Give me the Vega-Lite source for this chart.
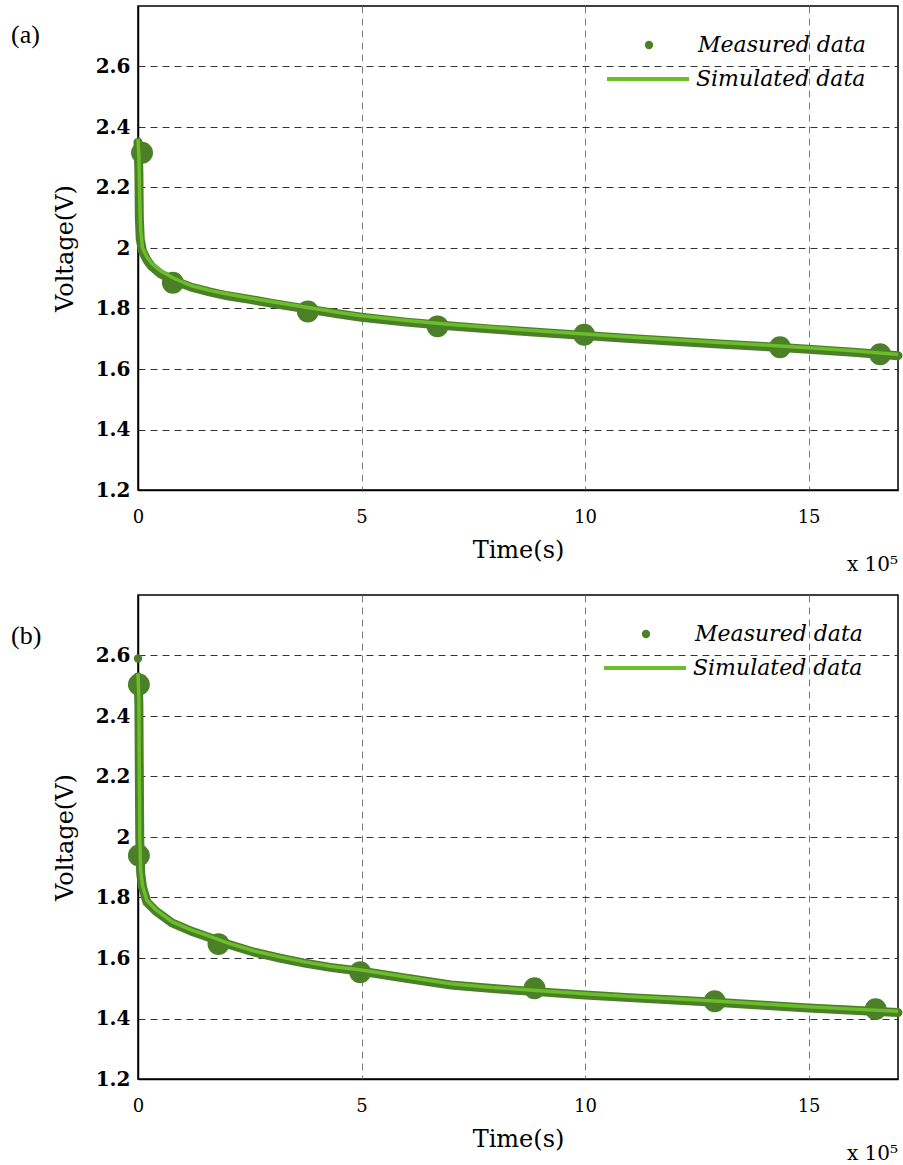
{
  "$schema": "https://vega.github.io/schema/vega-lite/v6.json",
  "background": "white",
  "padding": {"left": 10, "top": 5, "right": 5, "bottom": 5},
  "spacing": 19,
  "datasets": {
    "measA": [
      {"t": 0, "v": 2.35}, {"t": 2000, "v": 2.25}, {"t": 3000, "v": 2.1}, {"t": 5000, "v": 2.03}, {"t": 10000, "v": 1.99},
      {"t": 20000, "v": 1.96}, {"t": 30000, "v": 1.94}, {"t": 50000, "v": 1.915}, {"t": 80000, "v": 1.893}, {"t": 120000, "v": 1.87},
      {"t": 160000, "v": 1.855}, {"t": 200000, "v": 1.842}, {"t": 250000, "v": 1.83}, {"t": 300000, "v": 1.817}, {"t": 380000, "v": 1.798},
      {"t": 450000, "v": 1.782}, {"t": 500000, "v": 1.771}, {"t": 600000, "v": 1.755}, {"t": 700000, "v": 1.742}, {"t": 800000, "v": 1.731},
      {"t": 900000, "v": 1.721}, {"t": 1000000, "v": 1.711}, {"t": 1100000, "v": 1.701}, {"t": 1200000, "v": 1.692}, {"t": 1300000, "v": 1.683},
      {"t": 1400000, "v": 1.674}, {"t": 1500000, "v": 1.665}, {"t": 1600000, "v": 1.655}, {"t": 1700000, "v": 1.644}
    ],
    "simA": [
      {"t": 0, "v": 2.36, "series": "Simulated data"}, {"t": 2000, "v": 2.3, "series": "Simulated data"}, {"t": 4000, "v": 2.15, "series": "Simulated data"},
      {"t": 6000, "v": 2.06, "series": "Simulated data"}, {"t": 10000, "v": 2.0, "series": "Simulated data"}, {"t": 20000, "v": 1.97, "series": "Simulated data"},
      {"t": 30000, "v": 1.95, "series": "Simulated data"}, {"t": 50000, "v": 1.925, "series": "Simulated data"}, {"t": 80000, "v": 1.9, "series": "Simulated data"},
      {"t": 120000, "v": 1.875, "series": "Simulated data"}, {"t": 160000, "v": 1.86, "series": "Simulated data"}, {"t": 200000, "v": 1.848, "series": "Simulated data"},
      {"t": 250000, "v": 1.835, "series": "Simulated data"}, {"t": 300000, "v": 1.822, "series": "Simulated data"}, {"t": 380000, "v": 1.803, "series": "Simulated data"},
      {"t": 450000, "v": 1.787, "series": "Simulated data"}, {"t": 500000, "v": 1.776, "series": "Simulated data"}, {"t": 600000, "v": 1.76, "series": "Simulated data"},
      {"t": 700000, "v": 1.747, "series": "Simulated data"}, {"t": 800000, "v": 1.736, "series": "Simulated data"}, {"t": 900000, "v": 1.726, "series": "Simulated data"},
      {"t": 1000000, "v": 1.716, "series": "Simulated data"}, {"t": 1100000, "v": 1.706, "series": "Simulated data"}, {"t": 1200000, "v": 1.697, "series": "Simulated data"},
      {"t": 1300000, "v": 1.688, "series": "Simulated data"}, {"t": 1400000, "v": 1.679, "series": "Simulated data"}, {"t": 1500000, "v": 1.67, "series": "Simulated data"},
      {"t": 1600000, "v": 1.66, "series": "Simulated data"}, {"t": 1700000, "v": 1.648, "series": "Simulated data"}
    ],
    "markA": [
      {"t": 9000, "v": 2.315, "series": "Measured data"}, {"t": 78000, "v": 1.885, "series": "Measured data"}, {"t": 380000, "v": 1.79, "series": "Measured data"},
      {"t": 670000, "v": 1.741, "series": "Measured data"}, {"t": 998000, "v": 1.713, "series": "Measured data"}, {"t": 1436000, "v": 1.672, "series": "Measured data"},
      {"t": 1660000, "v": 1.649, "series": "Measured data"}
    ],
    "measB": [
      {"t": 0, "v": 2.53}, {"t": 2000, "v": 2.44}, {"t": 3000, "v": 2.2}, {"t": 4000, "v": 1.99}, {"t": 6000, "v": 1.88},
      {"t": 10000, "v": 1.835}, {"t": 20000, "v": 1.785}, {"t": 40000, "v": 1.755}, {"t": 76000, "v": 1.716}, {"t": 120000, "v": 1.688},
      {"t": 150000, "v": 1.673}, {"t": 200000, "v": 1.646}, {"t": 260000, "v": 1.619}, {"t": 320000, "v": 1.599}, {"t": 370000, "v": 1.584},
      {"t": 430000, "v": 1.569}, {"t": 500000, "v": 1.556}, {"t": 600000, "v": 1.533}, {"t": 700000, "v": 1.511}, {"t": 800000, "v": 1.498},
      {"t": 900000, "v": 1.488}, {"t": 1000000, "v": 1.478}, {"t": 1100000, "v": 1.469}, {"t": 1200000, "v": 1.461}, {"t": 1300000, "v": 1.453},
      {"t": 1400000, "v": 1.444}, {"t": 1500000, "v": 1.435}, {"t": 1600000, "v": 1.427}, {"t": 1700000, "v": 1.42}
    ],
    "simB": [
      {"t": 0, "v": 2.54, "series": "Simulated data"}, {"t": 2000, "v": 2.45, "series": "Simulated data"}, {"t": 3000, "v": 2.2, "series": "Simulated data"},
      {"t": 4000, "v": 2.0, "series": "Simulated data"}, {"t": 6000, "v": 1.89, "series": "Simulated data"}, {"t": 10000, "v": 1.84, "series": "Simulated data"},
      {"t": 20000, "v": 1.79, "series": "Simulated data"}, {"t": 40000, "v": 1.76, "series": "Simulated data"}, {"t": 76000, "v": 1.72, "series": "Simulated data"},
      {"t": 120000, "v": 1.692, "series": "Simulated data"}, {"t": 150000, "v": 1.677, "series": "Simulated data"}, {"t": 200000, "v": 1.65, "series": "Simulated data"},
      {"t": 260000, "v": 1.623, "series": "Simulated data"}, {"t": 320000, "v": 1.603, "series": "Simulated data"}, {"t": 370000, "v": 1.588, "series": "Simulated data"},
      {"t": 430000, "v": 1.573, "series": "Simulated data"}, {"t": 500000, "v": 1.56, "series": "Simulated data"}, {"t": 600000, "v": 1.537, "series": "Simulated data"},
      {"t": 700000, "v": 1.515, "series": "Simulated data"}, {"t": 800000, "v": 1.502, "series": "Simulated data"}, {"t": 900000, "v": 1.492, "series": "Simulated data"},
      {"t": 1000000, "v": 1.482, "series": "Simulated data"}, {"t": 1100000, "v": 1.473, "series": "Simulated data"}, {"t": 1200000, "v": 1.465, "series": "Simulated data"},
      {"t": 1300000, "v": 1.457, "series": "Simulated data"}, {"t": 1400000, "v": 1.448, "series": "Simulated data"}, {"t": 1500000, "v": 1.439, "series": "Simulated data"},
      {"t": 1600000, "v": 1.431, "series": "Simulated data"}, {"t": 1700000, "v": 1.424, "series": "Simulated data"}
    ],
    "markB": [
      {"t": 2000, "v": 2.504, "series": "Measured data"}, {"t": 2000, "v": 1.939, "series": "Measured data"}, {"t": 180000, "v": 1.646, "series": "Measured data"},
      {"t": 497000, "v": 1.553, "series": "Measured data"}, {"t": 887000, "v": 1.5, "series": "Measured data"}, {"t": 1290000, "v": 1.457, "series": "Measured data"},
      {"t": 1650000, "v": 1.431, "series": "Measured data"}
    ],
    "peakB": [{"t": 0, "v": 2.59}]
  },
  "config": {
    "view": {"stroke": "black", "strokeWidth": 1.5},
    "axis": {
      "domainColor": "black", "domainWidth": 1.5, "tickSize": 0, "gridDash": [7, 5], "gridWidth": 1,
      "labelFont": "DejaVu Serif", "titleFont": "DejaVu Serif", "titleFontWeight": "normal", "titleFontSize": 24,
      "labelColor": "black", "titleColor": "black"
    },
    "axisX": {"gridColor": "#7a7a7a", "labelFontSize": 18, "labelPadding": 18, "titlePadding": 12, "labelFlush": false},
    "axisY": {"gridColor": "#333333", "labelFontSize": 20, "labelFontWeight": "bold", "labelPadding": 8, "titlePadding": 18},
    "legend": {"padding": 0, "labelFont": "DejaVu Serif", "labelFontStyle": "italic", "labelFontSize": 22, "labelColor": "black", "labelLimit": 400}
  },
  "vconcat": [
    {
      "title": {"text": "x 10⁵", "orient": "bottom", "anchor": "end", "frame": "group", "offset": 0, "dx": 760, "dy": -8, "font": "DejaVu Serif", "fontSize": 20, "fontWeight": "normal", "color": "black"},
      "vconcat": [
        {
          "width": 760, "height": 484,
          "title": {"text": "(a)", "orient": "top", "anchor": "start", "frame": "group", "dx": -127, "dy": 68, "offset": 0, "font": "Liberation Serif", "fontSize": 26, "fontWeight": "normal", "baseline": "bottom"},
          "encoding": {
            "x": {"field": "t", "type": "quantitative", "scale": {"domain": [0, 1700000], "nice": false},
                  "axis": {"title": "Time(s)", "values": [0, 500000, 1000000, 1500000], "labelExpr": "format(datum.value/100000,'d')"}},
            "y": {"field": "v", "type": "quantitative", "scale": {"domain": [1.2, 2.8], "nice": false, "zero": false},
                  "axis": {"title": "Voltage(V)", "values": [1.2, 1.4, 1.6, 1.8, 2, 2.2, 2.4, 2.6], "format": "~g"}}
          },
          "layer": [
            {"data": {"name": "measA"}, "mark": {"type": "line", "color": "#4b7f28", "strokeWidth": 9, "strokeCap": "round"}},
            {"data": {"name": "markA"}, "mark": {"type": "point", "filled": true, "size": 480, "opacity": 1, "color": "#4b7f28"},
             "encoding": {"shape": {"field": "series", "type": "nominal", "scale": {"domain": ["Measured data"], "range": ["circle"]},
               "legend": {"title": null, "orient": "none", "legendX": 500, "legendY": 28, "symbolSize": 70, "symbolFillColor": "#4b7f28", "symbolStrokeWidth": 0, "symbolOpacity": 1, "labelOffset": 38}}}},
            {"data": {"name": "simA"}, "mark": {"type": "line", "strokeWidth": 3.5},
             "encoding": {"color": {"field": "series", "type": "nominal", "scale": {"domain": ["Simulated data"], "range": ["#6cbd2a"]},
               "legend": {"title": null, "orient": "none", "legendX": 467, "legendY": 30, "symbolType": "stroke", "symbolSize": 6724, "symbolStrokeWidth": 4, "labelOffset": 5}}}}
          ],
          "resolve": {"scale": {"color": "independent", "shape": "independent"}}
        }
      ]
    },
    {
      "title": {"text": "x 10⁵", "orient": "bottom", "anchor": "end", "frame": "group", "offset": 0, "dx": 760, "dy": -8, "font": "DejaVu Serif", "fontSize": 20, "fontWeight": "normal", "color": "black"},
      "vconcat": [
        {
          "width": 760, "height": 484,
          "title": {"text": "(b)", "orient": "top", "anchor": "start", "frame": "group", "dx": -127, "dy": 80, "offset": 0, "font": "Liberation Serif", "fontSize": 26, "fontWeight": "normal", "baseline": "bottom"},
          "encoding": {
            "x": {"field": "t", "type": "quantitative", "scale": {"domain": [0, 1700000], "nice": false},
                  "axis": {"title": "Time(s)", "values": [0, 500000, 1000000, 1500000], "labelExpr": "format(datum.value/100000,'d')"}},
            "y": {"field": "v", "type": "quantitative", "scale": {"domain": [1.2, 2.8], "nice": false, "zero": false},
                  "axis": {"title": "Voltage(V)", "values": [1.2, 1.4, 1.6, 1.8, 2, 2.2, 2.4, 2.6], "format": "~g"}}
          },
          "layer": [
            {"data": {"name": "measB"}, "mark": {"type": "line", "color": "#4b7f28", "strokeWidth": 9, "strokeCap": "round"}},
            {"data": {"name": "peakB"}, "mark": {"type": "point", "filled": true, "size": 70, "opacity": 1, "color": "#4b7f28"}},
            {"data": {"name": "markB"}, "mark": {"type": "point", "filled": true, "size": 480, "opacity": 1, "color": "#4b7f28"},
             "encoding": {"shape": {"field": "series", "type": "nominal", "scale": {"domain": ["Measured data"], "range": ["circle"]},
               "legend": {"title": null, "orient": "none", "legendX": 497, "legendY": 28, "symbolSize": 70, "symbolFillColor": "#4b7f28", "symbolStrokeWidth": 0, "symbolOpacity": 1, "labelOffset": 38}}}},
            {"data": {"name": "simB"}, "mark": {"type": "line", "strokeWidth": 3.5},
             "encoding": {"color": {"field": "series", "type": "nominal", "scale": {"domain": ["Simulated data"], "range": ["#6cbd2a"]},
               "legend": {"title": null, "orient": "none", "legendX": 464, "legendY": 30, "symbolType": "stroke", "symbolSize": 6724, "symbolStrokeWidth": 4, "labelOffset": 5}}}}
          ],
          "resolve": {"scale": {"color": "independent", "shape": "independent"}}
        }
      ]
    }
  ]
}
